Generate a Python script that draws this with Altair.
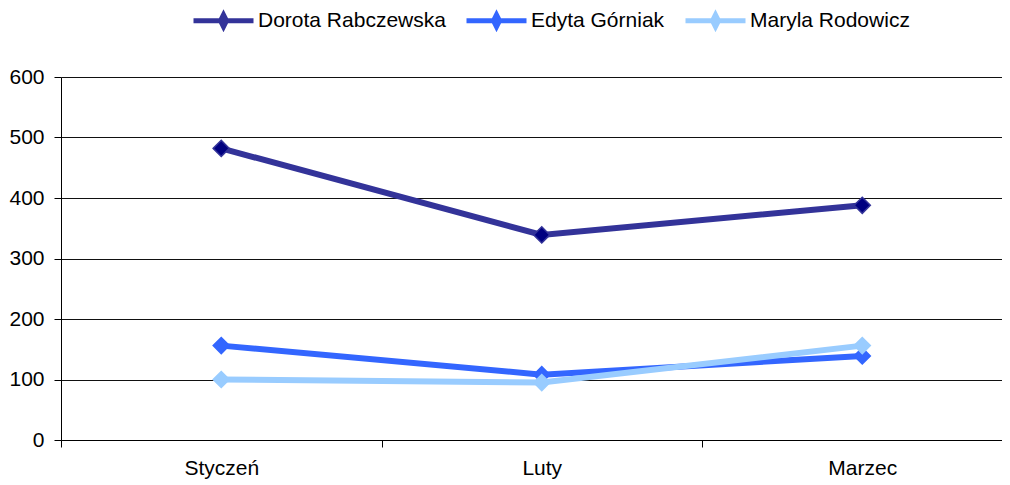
import altair as alt
import pandas as pd

months = ["Styczeń", "Luty", "Marzec"]
series_names = ["Dorota Rabczewska", "Edyta Górniak", "Maryla Rodowicz"]
dorota = [482, 339, 388]
edyta = [156, 108, 139]
maryla = [100, 95, 156]
line_colors = ["#333399", "#3366FF", "#99CCFF"]
marker_colors = ["#000080", "#3366FF", "#99CCFF"]

rows = []
for name, vals in zip(series_names, [dorota, edyta, maryla]):
    for i, (m, v) in enumerate(zip(months, vals)):
        rows.append({"miesiac": m, "pos": i + 0.5, "wartosc": v, "seria": name})
df = pd.DataFrame(rows)

FONT = "Liberation Sans"
FS = 21

# category slots 0..3; the visible window ends a little before the last slot edge
x_values = [0, 0.5, 1, 1.5, 2, 2.5]
label_expr = ("datum.value == 0.5 ? '" + months[0] + "' : datum.value == 1.5 ? '"
              + months[1] + "' : datum.value == 2.5 ? '" + months[2] + "' : ''")

x_enc = alt.X("pos:Q",
              scale=alt.Scale(domain=[0, 2.936], nice=False, zero=False),
              axis=alt.Axis(title=None, values=x_values, labelExpr=label_expr,
                            labelAngle=0, grid=False, labelOverlap=False, labelFlush=False,
                            tickSize=7,
                            tickColor=alt.condition("datum.value % 1 == 0",
                                                    alt.value("#000"), alt.value("transparent")),
                            domainColor="#000",
                            labelPadding=10, labelFontSize=FS, labelFont=FONT,
                            labelColor="#000"))
y_enc = alt.Y("wartosc:Q",
              scale=alt.Scale(domain=[0, 600], nice=False),
              axis=alt.Axis(title=None, values=[0, 100, 200, 300, 400, 500, 600],
                            grid=True, gridColor="#111", gridWidth=1,
                            tickSize=7, tickColor="#000", domainColor="#000",
                            labelPadding=10, labelFontSize=FS, labelFont=FONT,
                            labelColor="#000"))

legend = alt.Legend(
    title=None, orient="none", direction="horizontal",
    legendX=130, legendY=-89,
    symbolType="M-1,0L1,0M0,-0.2L0.1,0L0,0.2L-0.1,0Z",
    symbolSize=3600, symbolStrokeWidth=5,
    labelFontSize=FS, labelFont=FONT, labelColor="#000", labelLimit=400,
    labelOffset=2, columnPadding=10, symbolOffset=0,
)

lines = alt.Chart(df).mark_line(strokeWidth=6, strokeJoin="miter").encode(
    x=x_enc, y=y_enc,
    color=alt.Color("seria:N", sort=series_names,
                    scale=alt.Scale(domain=series_names, range=line_colors),
                    legend=legend),
    order="pos:Q",
)

points = alt.Chart(df).mark_point(shape="diamond", filled=True, size=260,
                                  opacity=1, strokeWidth=1.5).encode(
    x=x_enc, y=y_enc,
    fill=alt.Fill("seria:N", sort=series_names,
                  scale=alt.Scale(domain=series_names, range=marker_colors),
                  legend=None),
    stroke=alt.Stroke("seria:N", sort=series_names,
                      scale=alt.Scale(domain=series_names, range=line_colors),
                      legend=None),
)

chart = alt.layer(lines, points).properties(
    width=941, height=363,
    autosize=alt.AutoSizeParams(type="none"),
    padding={"left": 53, "top": 69, "right": 0, "bottom": 44},
).configure_view(stroke=None).configure_axis(domainWidth=1)

chart.save("out.html", embed_options={"renderer": "svg", "actions": False})
